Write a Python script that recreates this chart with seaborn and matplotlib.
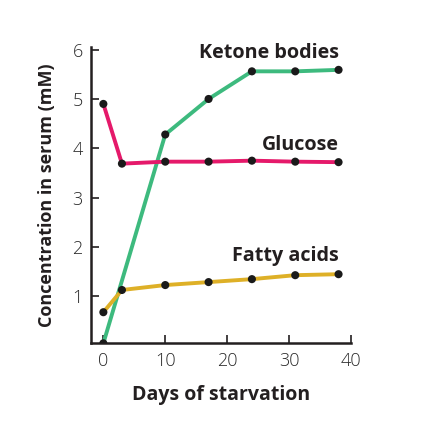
import matplotlib
matplotlib.use("Agg")
import matplotlib.pyplot as plt
import seaborn as sns
import pandas as pd

# Data
KETONE_DAYS = [0, 10, 17, 24, 31, 38]
KETONE_MM = [0.05, 4.28, 5.0, 5.56, 5.56, 5.59]
GLUCOSE_DAYS = [0, 3, 10, 17, 24, 31, 38]
GLUCOSE_MM = [4.9, 3.69, 3.73, 3.73, 3.75, 3.73, 3.72]
FATTY_DAYS = [0, 3, 10, 17, 24, 31, 38]
FATTY_MM = [0.68, 1.13, 1.23, 1.29, 1.35, 1.43, 1.45]

SERIES = [
    ("Ketone bodies", KETONE_DAYS, KETONE_MM, "#3dba7e", 5.72),
    ("Glucose", GLUCOSE_DAYS, GLUCOSE_MM, "#e5196a", 3.86),
    ("Fatty acids", FATTY_DAYS, FATTY_MM, "#deb027", 1.62),
]

sns.set_style("ticks")
plt.rcParams["font.family"] = ["Open Sans", "DejaVu Sans"]

fig = plt.figure(figsize=(4.22, 4.44), dpi=100)
ax = fig.add_axes([0.2156, 0.2268, 0.616, 0.667])

for name, days, vals, color, label_y in SERIES:
    df = pd.DataFrame({"day": days, "mM": vals})
    sns.lineplot(data=df, x="day", y="mM", ax=ax, color=color, linewidth=2.8,
                 zorder=2)
    ax.text(38, label_y, name, ha="right", va="bottom", fontsize=14.2,
            fontweight="bold", color="#231f20")

# black dots on top of every line
for name, days, vals, color, label_y in SERIES:
    sns.scatterplot(x=days, y=vals, ax=ax, color="#1a1a1a", s=34,
                    edgecolor="none", zorder=3)

ax.set_xlim(-2, 40)
ax.set_ylim(0.05, 6.05)
ax.set_xticks([0, 10, 20, 30, 40])
ax.set_yticks([1, 2, 3, 4, 5, 6])
ax.tick_params(direction="in", length=6, width=1.2, color="#231f20",
               labelsize=13, labelcolor="#2a2a2a", pad=6)
for lab in ax.get_xticklabels() + ax.get_yticklabels():
    lab.set_fontweight("light")
for s in ["top", "right"]:
    ax.spines[s].set_visible(False)
for s in ["left", "bottom"]:
    ax.spines[s].set_linewidth(1.8)
    ax.spines[s].set_color("#231f20")

ax.set_xlabel("Days of starvation", fontsize=14, fontweight="bold",
              color="#231f20", labelpad=11)
ax.set_ylabel("Concentration in serum (mM)", fontsize=13,
              fontweight="bold", color="#231f20", labelpad=12)

fig.savefig("out.png", dpi=100)
